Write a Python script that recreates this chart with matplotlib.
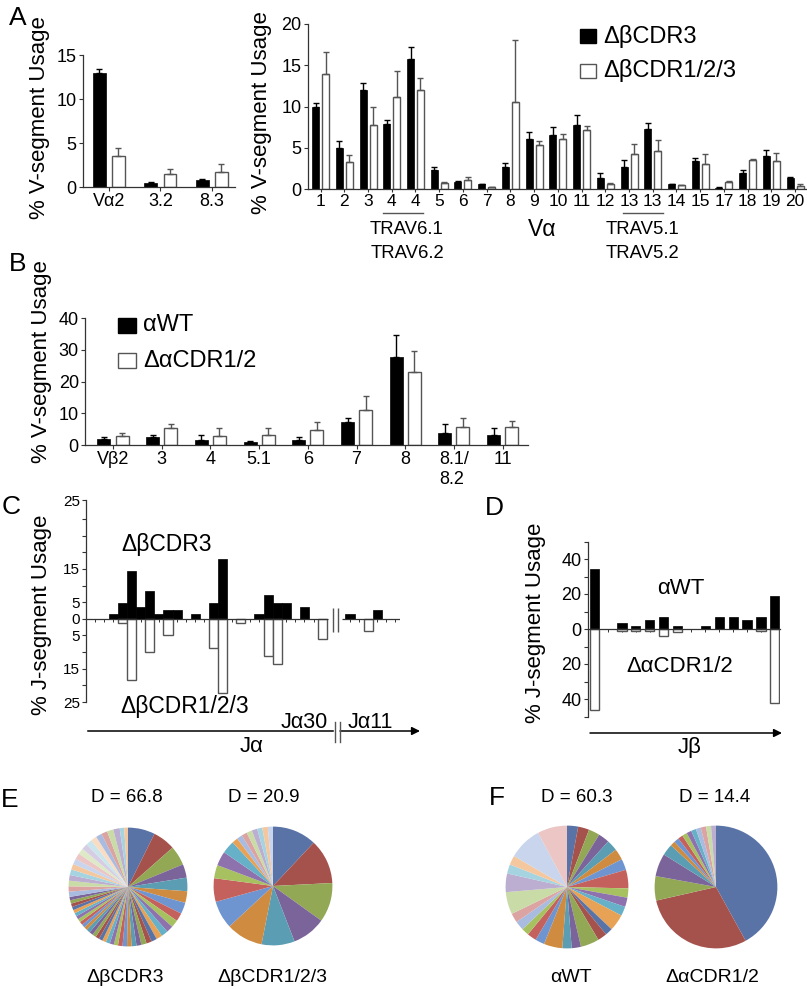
import numpy as np
import matplotlib
matplotlib.use('Agg')
import matplotlib.pyplot as plt
from matplotlib.patches import Rectangle, FancyArrowPatch
from matplotlib.lines import Line2D

plt.rcParams['font.family'] = ['Liberation Sans', 'DejaVu Sans']

W, H = 807, 989

# ---- panel A: V alpha usage (left small panel) ----
a1_labels = ['Vα2', '3.2', '8.3']
a1_black = [13.0, 0.45, 0.85]
a1_black_err = [0.4, 0.08, 0.08]
a1_white = [3.5, 1.45, 1.7]
a1_white_err = [0.9, 0.65, 0.9]

# ---- panel A: V alpha usage (right panel) ----
a2_labels = ['1', '2', '3', '4', '4', '5', '6', '7', '8', '9', '10', '11', '12',
             '13', '13', '14', '15', '17', '18', '19', '20']
a2_black = [9.9, 5.0, 12.0, 7.9, 15.7, 2.3, 0.9, 0.6, 2.7, 6.05, 6.5, 7.7, 1.3,
            2.7, 7.3, 0.6, 3.35, 0.16, 2.0, 3.95, 1.33]
a2_black_err = [0.5, 0.8, 0.8, 0.5, 1.5, 0.4, 0.1, 0.05, 0.45, 0.8, 1.0, 1.3, 0.7,
                0.8, 0.7, 0.05, 0.4, 0.04, 0.3, 0.75, 0.07]
a2_white = [13.9, 3.27, 7.8, 11.1, 12.0, 0.7, 1.05, 0.2, 10.5, 5.3, 6.05, 7.2, 0.6,
            4.23, 4.6, 0.5, 3.06, 0.9, 3.5, 3.4, 0.36]
a2_white_err = [2.75, 0.8, 2.1, 3.2, 1.5, 0.1, 0.4, 0.05, 7.6, 0.5, 0.6, 0.4, 0.17,
                1.2, 1.3, 0.02, 1.14, 0.1, 0.1, 0.95, 0.24]

# ---- panel B: V beta usage ----
b_labels = ['Vβ2', '3', '4', '5.1', '6', '7', '8', '8.1/\n8.2', '11']
b_black = [1.8, 2.6, 1.6, 0.95, 1.6, 7.1, 27.7, 3.9, 3.3]
b_black_err = [0.8, 0.5, 1.7, 0.2, 0.8, 1.5, 7.0, 2.7, 2.0]
b_white = [2.7, 5.2, 2.8, 3.1, 4.7, 11.0, 23.0, 5.6, 5.7]
b_white_err = [0.95, 1.3, 2.7, 2.2, 2.6, 4.5, 6.6, 2.8, 1.8]

# ---- panel C: J alpha usage, one value per J segment slot ----
c_up = [1.3, 4.8, 14.3, 3.6, 8.5, 1.3, 2.5, 2.5, 0, 1.3, 0, 4.8, 18.0, 0, 0,
        0, 1.3, 7.2, 4.8, 4.8, 0, 3.6, 0, 0, 0, 0, 1.3, 0, 0, 2.5]
c_down = [0, 1.4, 18.4, 0, 9.9, 0, 5.0, 0, 0, 0, 0, 8.7, 22.2, 0, 1.2,
          0, 0, 11.2, 13.6, 0, 0, 0, 0, 6.2, 0, 0, 0, 0, 3.7, 0]

# ---- panel D: J beta usage ----
d_up = [34.5, 0, 3.4, 1.5, 5.3, 7.0, 1.5, 0, 1.5, 6.7, 6.7, 5.0, 6.7, 18.7]
d_down = [46.0, 0, 1.3, 1.3, 1.3, 3.8, 1.9, 0, 0, 0, 0, 0, 1.3, 42.3]

# ---- panels E/F: clonotype pies ----
e_cdr3 = [7.2, 6.0, 5.2, 3.6, 3.6, 3.1, 3.0, 2.2, 2.0, 1.8, 1.8, 1.6, 1.5, 1.4, 1.4,
          1.3, 1.3, 1.2, 1.2, 1.2, 1.1, 1.1, 1.1, 1.0, 1.0, 1.0, 1.0, 1.0, 1.0, 0.9,
          0.9, 0.9, 0.9, 0.9, 0.9, 0.9, 0.9, 0.9, 0.9, 0.9, 1.4, 1.4, 1.5, 1.5, 1.5,
          1.5, 1.5, 1.6, 1.6, 1.6, 1.6, 1.6, 1.6, 1.6, 1.7, 1.7, 1.2, 1.0]
e_cdr123 = [12.0, 12.2, 10.7, 9.2, 9.0, 10.0, 7.6, 6.4, 3.6, 3.9, 3.5,
            1.6, 1.5, 1.5, 1.5, 1.5, 1.4, 1.5, 1.4]
f_wt = [3, 3, 3, 3, 3, 3, 3, 5, 2.5, 2.5, 2.5, 4.5, 2, 2.5, 5, 2.5, 2.5, 5, 2.5,
        2.5, 2, 2.5, 2.5, 6, 5, 2.5, 2.5, 9, 8]
f_cdr12 = [41.9, 29.4, 6.4, 6.0, 3.0, 1.3, 1.3, 1.3, 1.3, 1.3, 1.3, 1.3, 1.4, 1.3, 1.3]

base12 = ['#5A73A7', '#A5524D', '#93A855', '#7B6499', '#5B9DB3', '#CF8B40',
          '#6F95D1', '#C4615D', '#A8C160', '#8D72AD', '#66B0C8', '#E8A256']
pastel12 = ['#A9BCE0', '#DBA3A1', '#C9DBA6', '#BBAED0', '#A6D3E0', '#F5C79F',
            '#C8D5EC', '#EBC6C4', '#DEE9C8', '#D6CCE3', '#CAE5EC', '#F9DCC4']

fig = plt.figure(figsize=(W / 100, H / 100), dpi=100)


def rect(x0, y0, x1, y1):
    return [x0 / W, 1 - y1 / H, (x1 - x0) / W, (y1 - y0) / H]


def ftext(x, y, s, size, **kw):
    kw.setdefault('ha', 'center')
    kw.setdefault('va', 'center')
    fig.text(x / W, 1 - y / H, s, fontsize=size, **kw)


def fline(x0, y0, x1, y1, **kw):
    fig.add_artist(Line2D([x0 / W, x1 / W], [1 - y0 / H, 1 - y1 / H],
                          transform=fig.transFigure, **kw))


def farrow(x0, y, x1):
    fig.add_artist(FancyArrowPatch((x0 / W, 1 - y / H), (x1 / W, 1 - y / H),
                                   transform=fig.transFigure, arrowstyle='-|>',
                                   mutation_scale=12, lw=1.1, color='black',
                                   shrinkA=0, shrinkB=0))


def fbox(x0, y0, x1, y1, fc, ec):
    fig.add_artist(Rectangle((x0 / W, 1 - y1 / H), (x1 - x0) / W, (y1 - y0) / H,
                             transform=fig.transFigure, facecolor=fc,
                             edgecolor=ec, lw=1))


def style(ax, size):
    for s in ('top', 'right'):
        ax.spines[s].set_visible(False)
    for s in ('left', 'bottom'):
        ax.spines[s].set_linewidth(0.9)
        ax.spines[s].set_color('#333333')
    ax.tick_params(direction='out', length=3, width=0.8, color='#333333',
                   labelsize=size, pad=1.5)


def paired(ax, labels, blk, blk_e, wht, wht_e, width, off):
    x = np.arange(len(labels))
    z = np.zeros(len(labels))
    ax.bar(x - off, blk, width, color='black', edgecolor='black', lw=0.5, zorder=2)
    ax.bar(x + off, wht, width, color='white', edgecolor='#555555', lw=1.0, zorder=2)
    ax.errorbar(x - off, blk, yerr=[z, blk_e], fmt='none', ecolor='black',
                elinewidth=1, capsize=2.5, capthick=1, zorder=3)
    ax.errorbar(x + off, wht, yerr=[z, wht_e], fmt='none', ecolor='#555555',
                elinewidth=1, capsize=2.5, capthick=1, zorder=3)
    ax.set_xticks(x)
    ax.set_xticklabels(labels)


# A left
ax = fig.add_axes(rect(83, 55, 235, 187))
style(ax, 13)
paired(ax, a1_labels, a1_black, a1_black_err, a1_white, a1_white_err, 0.25, 0.185)
ax.set_xlim(-0.505, 2.45)
ax.set_ylim(0, 15)
ax.set_yticks([0, 5, 10, 15])

# A right
ax = fig.add_axes(rect(308, 24, 807, 189))
style(ax, 13)
paired(ax, a2_labels, a2_black, a2_black_err, a2_white, a2_white_err, 0.295, 0.21)
ax.tick_params(axis='x', labelsize=12.5, length=2)
ax.set_xlim(-0.53, 20.5)
ax.set_ylim(0, 20)
ax.set_yticks([0, 5, 10, 15, 20])

# B
ax = fig.add_axes(rect(85, 318, 528, 445))
style(ax, 13)
paired(ax, b_labels, b_black, b_black_err, b_white, b_white_err, 0.267, 0.185)
for t in ax.get_xticklabels():
    t.set_multialignment('left')
    t.set_linespacing(1.25)
ax.set_xlim(-0.575, 8.52)
ax.set_ylim(0, 40)
ax.set_yticks([0, 10, 20, 30, 40])

# C
ax = fig.add_axes(rect(86, 500, 400, 702))
style(ax, 11)
cx = np.arange(len(c_up))
up = np.array(c_up)
dn = np.array(c_down)
ax.bar(cx[up > 0], up[up > 0], 1.0, color='black', edgecolor='black', lw=0.5, zorder=2)
ax.bar(cx[dn > 0], -dn[dn > 0], 1.0, color='white', edgecolor='#555555', lw=1.0, zorder=2)
ax.spines['bottom'].set_position(('data', 0))
ax.spines['bottom'].set_visible(False)
ax.hlines([0, 0], [-3.02, 25.1], [23.6, 31.5], color='#333333', lw=0.9, zorder=3)
ax.vlines([24.12, 24.67], -3.9, 3.3, color='#555555', lw=1.0, zorder=3)
ax.set_xticks(list(range(-2, 24)) + list(range(26, 32)))
ax.set_xticklabels([])
ax.tick_params(axis='x', length=2.5, width=0.7)
ax.set_xlim(-3.02, 31.5)
ax.set_ylim(-25, 35.7)
ax.set_yticks([-25, -20, -15, -10, -5, 0, 5, 10, 15, 20, 25, 30, 35.7])
ax.set_yticklabels(['25', '', '15', '', '5', '0', '5', '', '15', '', '', '', '25'])

# D
ax = fig.add_axes(rect(588, 541.5, 780, 716.5))
style(ax, 13)
dx = np.arange(len(d_up))
up = np.array(d_up)
dn = np.array(d_down)
ax.bar(dx[up > 0], up[up > 0], 0.66, color='black', edgecolor='black', lw=0.5, zorder=2)
ax.bar(dx[dn > 0], -dn[dn > 0], 0.66, color='white', edgecolor='#555555', lw=1.0, zorder=2)
ax.spines['bottom'].set_position(('data', 0))
ax.spines['bottom'].set_zorder(3)
ax.set_xticks(dx)
ax.set_xticklabels([])
ax.tick_params(axis='x', length=2.5, width=0.7)
ax.set_xlim(-0.44, 13.37)
ax.set_ylim(-50, 50)
ax.set_yticks(np.arange(-50, 51, 10))
ax.set_yticklabels(['', '40', '', '20', '', '0', '', '20', '', '40', ''])


# pies
def pie(cx, cy, r, vals, n_sat):
    pax = fig.add_axes(rect(cx - r, cy - r, cx + r, cy + r))
    cols = [base12[i % 12] if i < n_sat else pastel12[(i - n_sat) % 12]
            for i in range(len(vals))]
    pax.pie(vals, colors=cols, startangle=90, counterclock=False, radius=1,
            wedgeprops=dict(linewidth=0))
    pax.set_xlim(-1.01, 1.01)
    pax.set_ylim(-1.01, 1.01)
    pax.set_aspect('equal')
    pax.axis('off')


pie(128, 887, 60, e_cdr3, 40)
pie(273, 886, 60, e_cdr123, 12)
pie(567, 887, 62, f_wt, 21)
pie(716, 887, 62, f_cdr12, 11)

# texts: panel letters
for s, x, y in [('A', 18, 18), ('B', 18, 264), ('C', 11, 507),
                ('D', 494, 508), ('E', 10, 800), ('F', 497, 798)]:
    ftext(x, y, s, 19)

# axis titles
ftext(40, 118, '% V-segment Usage', 16, rotation=90)
ftext(261, 113, '% V-segment Usage', 16, rotation=90)
ftext(42, 362, '% V-segment Usage', 16, rotation=90)
ftext(42, 615, '% J-segment Usage', 16, rotation=90)
ftext(535, 623, '% J-segment Usage', 16, rotation=90)

# A legend and annotations
fbox(580, 29, 596, 43, 'black', 'black')
fbox(580, 64, 596, 78, 'white', '#555555')
ftext(603, 37, 'ΔβCDR3', 17, ha='left')
ftext(603, 71, 'ΔβCDR1/2/3', 17, ha='left')
fline(383, 213, 423, 213, color='#555555', lw=1)
fline(623, 213, 663, 213, color='#555555', lw=1)
ftext(407, 230, 'TRAV6.1', 13.3)
ftext(407, 253, 'TRAV6.2', 13.3)
ftext(642, 230, 'TRAV5.1', 13.3)
ftext(642, 253, 'TRAV5.2', 13.3)
ftext(542, 229, 'Vα', 16.5)

# B legend
fbox(118, 318, 136, 333, 'black', 'black')
fbox(118, 353, 136, 368, 'white', '#555555')
ftext(143, 325, 'αWT', 17, ha='left')
ftext(143, 361, 'ΔαCDR1/2', 17, ha='left')

# C annotations
ftext(167, 545, 'ΔβCDR3', 16.5)
ftext(185, 707, 'ΔβCDR1/2/3', 16.5)
ftext(304, 723, 'Jα30', 15.5)
ftext(370, 723, 'Jα11', 15.5)
fline(88, 731, 333, 731, color='black', lw=1.1)
farrow(340, 731, 420)
fline(335, 722, 335, 742, color='#555555', lw=1)
fline(340, 722, 340, 742, color='#555555', lw=1)
ftext(252, 747, 'Jα', 16)

# D annotations
ftext(681, 588, 'αWT', 16)
ftext(680, 667, 'ΔαCDR1/2', 16)
farrow(590, 733, 782)
ftext(690, 747, 'Jβ', 16)

# E / F labels
ftext(127, 797, 'D = 66.8', 13.5)
ftext(264, 797, 'D = 20.9', 13.5)
ftext(125, 977, 'ΔβCDR3', 14)
ftext(272, 978, 'ΔβCDR1/2/3', 14)
ftext(577, 797, 'D = 60.3', 13.5)
ftext(715, 797, 'D = 14.4', 13.5)
ftext(571, 977, 'αWT', 14)
ftext(712, 978, 'ΔαCDR1/2', 14)

fig.savefig('out.png', dpi=100)
